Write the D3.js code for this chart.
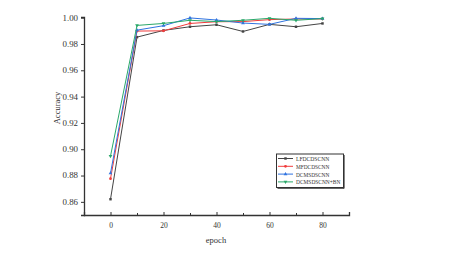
<!DOCTYPE html>
<html><head><meta charset="utf-8">
<script src="https://cdn.jsdelivr.net/npm/d3@7"></script>
<style>body{margin:0;background:#fff}svg{display:block}text{font-family:"Liberation Serif","DejaVu Serif",serif;fill:#333}</style>
</head><body><svg id="c" width="457" height="263"></svg>
<script>
const epochs=[0,10,20,30,40,50,60,70,80];
const seriesNames=["LFDCDSCNN","MFDCDSCNN","DCMSDSCNN","DCMSDSCNN+BN"];
const lfdc=[0.862,0.9852,0.9903,0.9931,0.9946,0.9895,0.9949,0.9931,0.9956];
const mfdc=[0.8776,0.9898,0.9900,0.9956,0.9969,0.9970,0.9985,0.9990,0.9990];
const dcms=[0.8818,0.9905,0.9939,0.9998,0.9982,0.9959,0.9949,0.9995,0.9993];
const dcmsbn=[0.8948,0.9941,0.9956,0.9980,0.9970,0.9980,0.9995,0.9980,0.9993];
const colors=["#444444","#f03c3c","#2f73e0","#2aa86a"];
const symbols=[d3.symbolSquare,d3.symbolCircle,d3.symbolTriangle,d3.symbolTriangle];
const yTicks=[0.86,0.88,0.90,0.92,0.94,0.96,0.98,1.00];
const xTicks=[0,20,40,60,80];
const xMinor=[10,30,50,70];

const svg=d3.select("#c");
const x=d3.scaleLinear().domain([-10,90]).range([84,349]);
const y=d3.scaleLinear().domain([0.85,1.0005]).range([215,17]);
const g=svg.append("g");
// axes
const yAx=g.append("g").attr("transform","translate(84,0)").call(d3.axisLeft(y).tickValues(yTicks).tickSize(3).tickPadding(3).tickFormat(d3.format(".2f")));
g.append("g").attr("transform","translate(0,215)").call(d3.axisBottom(x).tickValues(xTicks).tickSize(-3).tickPadding(8).tickFormat(d3.format("d")));
g.append("g").attr("transform","translate(0,215)").call(d3.axisBottom(x).tickValues(xMinor).tickSize(-2).tickFormat("")).select(".domain").remove();
g.selectAll(".domain").attr("stroke","#333").attr("stroke-width",1.3);
g.selectAll(".tick line").attr("stroke","#333");
g.selectAll(".tick text").attr("font-size",7.5).attr("fill","#444").style("font-family","'Liberation Serif',serif");
yAx.selectAll(".tick text").attr("textLength",15.5).attr("lengthAdjust","spacingAndGlyphs");
// labels
svg.append("text").attr("x",216).attr("y",243).attr("text-anchor","middle").attr("font-size",8.5).text("epoch");
svg.append("text").attr("transform","translate(60,108) rotate(-90)").attr("text-anchor","middle").attr("font-size",8.5).text("Accuracy");
// series
const all=[lfdc,mfdc,dcms,dcmsbn];
const line=d3.line().x((d,i)=>x(epochs[i])).y(d=>y(d));
all.forEach((s,k)=>{
  g.append("path").datum(s).attr("d",line).attr("fill","none").attr("stroke",colors[k]).attr("stroke-width",1);
  g.selectAll(null).data(s).enter().append("path")
   .attr("d",d3.symbol().type(symbols[k]).size(6))
   .attr("transform",(d,i)=>`translate(${x(epochs[i])},${y(d)})${k===3?" rotate(180)":""}`)
   .attr("fill",colors[k]);
});
// legend
const lg=svg.append("g");
lg.append("rect").attr("x",276.5).attr("y",154).attr("width",67).attr("height",33.5).attr("fill","#fff").attr("stroke","#333").attr("stroke-width",1);
lg.append("line").attr("x1",344).attr("x2",344).attr("y1",155).attr("y2",188.5).attr("stroke","#333").attr("stroke-width",1.2);
lg.append("line").attr("x1",277.5).attr("x2",344).attr("y1",188.2).attr("y2",188.2).attr("stroke","#333").attr("stroke-width",1.2);
seriesNames.forEach((n,k)=>{
  const yy=158.5+k*7.8;
  lg.append("line").attr("x1",278).attr("x2",293).attr("y1",yy).attr("y2",yy).attr("stroke",colors[k]).attr("stroke-width",1);
  lg.append("path").attr("d",d3.symbol().type(symbols[k]).size(6)).attr("transform",`translate(285.5,${yy})${k===3?" rotate(180)":""}`).attr("fill",colors[k]);
  lg.append("text").attr("x",296).attr("y",yy+2.5).attr("font-size",7).attr("fill","#444")
    .attr("textLength",n.length*3.7).attr("lengthAdjust","spacingAndGlyphs").text(n);
});
</script></body></html>
